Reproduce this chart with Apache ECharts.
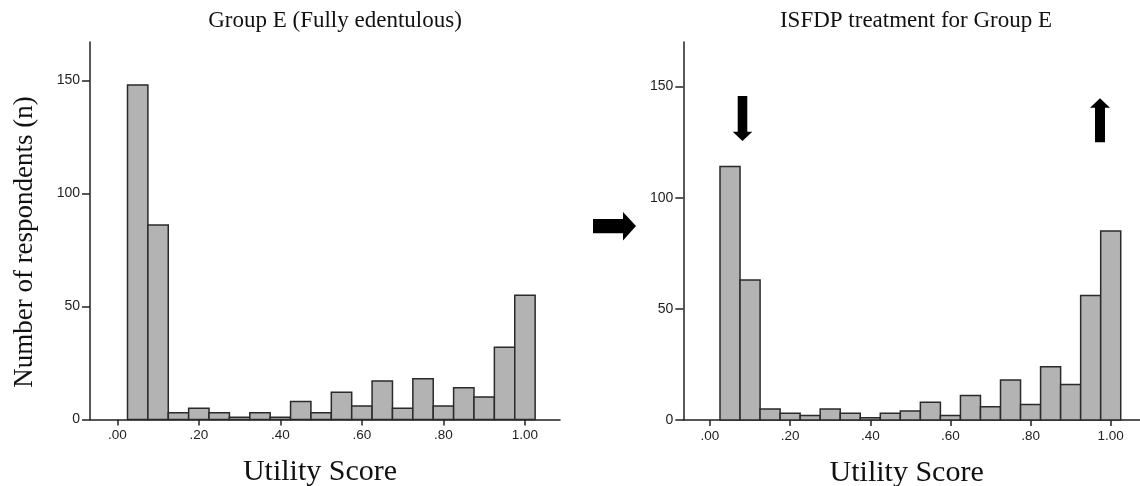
<!DOCTYPE html>
<html>
<head>
<meta charset="utf-8">
<script src="https://cdn.jsdelivr.net/npm/echarts@6/dist/echarts.min.js"></script>
<style>
  html, body { margin: 0; padding: 0; background: #fff; }
  #chart { width: 1140px; height: 486px; }
</style>
</head>
<body>
<div id="chart"></div>
<script>
// ---- data ----
const binCenters = [0.05, 0.10, 0.15, 0.20, 0.25, 0.30, 0.35, 0.40, 0.45, 0.50,
                    0.55, 0.60, 0.65, 0.70, 0.75, 0.80, 0.85, 0.90, 0.95, 1.00];
const groupECounts = [148, 86, 3, 5, 3, 1, 3, 1, 8, 3, 12, 6, 17, 5, 18, 6, 14, 10, 32, 55];
const isfdpCounts  = [114, 63, 5, 3, 2, 5, 3, 1, 3, 4, 8, 2, 11, 6, 18, 7, 24, 16, 56, 85];
const binWidth = 0.05;
const xTickValues = [0, 0.2, 0.4, 0.6, 0.8, 1.0];
const xTickLabels = ['.00', '.20', '.40', '.60', '.80', '1.00'];
const yTickValues = [0, 50, 100, 150];
const yTickLabels = ['0', '50', '100', '150'];
const titles = ['Group E (Fully edentulous)', 'ISFDP treatment for Group E'];
const xName = 'Utility Score';
const yName = 'Number of respondents (n)';

// ---- styles ----
const SERIF = '"Liberation Serif", "Times New Roman", serif';
const SANS = '"Liberation Sans", Arial, sans-serif';
const AX = '#222';

function toPairs(counts) { return binCenters.map((c, i) => [c, counts[i]]); }

function renderBar(params, api) {
  const c = api.value(0), v = api.value(1);
  const pTop = api.coord([c - binWidth / 2, v]);
  const pBot = api.coord([c + binWidth / 2, 0]);
  return {
    type: 'rect',
    shape: { x: pTop[0], y: pTop[1], width: pBot[0] - pTop[0], height: pBot[1] - pTop[1] },
    style: { fill: '#b3b3b3', stroke: '#2a2a2a', lineWidth: 1.5 }
  };
}

function xAxisCfg(idx, min, max) {
  return {
    type: 'value', gridIndex: idx, min: min, max: max,
    name: xName, nameLocation: 'middle', nameGap: 38,
    nameTextStyle: { fontFamily: SERIF, fontSize: 30, color: '#111', padding: [0, 10, 0, 0] },
    axisLine: { show: true, onZero: false, lineStyle: { color: AX, width: 1.5 } },
    axisTick: { show: true, length: 6, lineStyle: { color: AX, width: 1.5 }, customValues: xTickValues },
    axisLabel: {
      customValues: xTickValues, margin: 9,
      fontFamily: SANS, fontSize: 13.5, color: '#222',
      formatter: v => xTickLabels[Math.round(v * 5)]
    },
    splitLine: { show: false }
  };
}

function yAxisCfg(idx, max) {
  return {
    type: 'value', gridIndex: idx, min: 0, max: max,
    axisLine: { show: true, onZero: false, lineStyle: { color: AX, width: 1.5 } },
    axisTick: { show: true, length: 8, lineStyle: { color: AX, width: 1.5 }, customValues: yTickValues },
    axisLabel: {
      customValues: yTickValues, margin: 10,
      fontFamily: SANS, fontSize: 14, color: '#222',
      formatter: v => yTickLabels[yTickValues.indexOf(v)]
    },
    splitLine: { show: false }
  };
}

const chart = echarts.init(document.getElementById('chart'), null, { renderer: 'canvas' });
chart.setOption({
  backgroundColor: '#fff',
  animation: false,
  title: [
    { text: titles[0], left: 330, top: 4, textAlign: 'center',
      textStyle: { fontFamily: SERIF, fontSize: 23, fontWeight: 'normal', color: '#111' } },
    { text: titles[1], left: 911, top: 4, textAlign: 'center',
      textStyle: { fontFamily: SERIF, fontSize: 23, fontWeight: 'normal', color: '#111' } }
  ],
  grid: [
    { left: 90, top: 42, width: 470, height: 377.5, containLabel: false, outerBoundsMode: 'none' },
    { left: 683.3, top: 42, width: 456.7, height: 378, containLabel: false, outerBoundsMode: 'none' }
  ],
  xAxis: [xAxisCfg(0, -0.067, 1.086), xAxisCfg(1, -0.0666, 1.0731)],
  yAxis: [yAxisCfg(0, 167), yAxisCfg(1, 170)],
  series: [
    { type: 'custom', xAxisIndex: 0, yAxisIndex: 0, renderItem: renderBar,
      encode: { x: 0, y: 1 }, data: toPairs(groupECounts) },
    { type: 'custom', xAxisIndex: 1, yAxisIndex: 1, renderItem: renderBar,
      encode: { x: 0, y: 1 }, data: toPairs(isfdpCounts) }
  ],
  graphic: [
    { type: 'text', x: 25, y: 242, rotation: Math.PI / 2,
      style: { text: yName, font: '27px ' + SERIF, fill: '#111', textAlign: 'center', textVerticalAlign: 'middle' } },
    // transition arrow between panels
    { type: 'polygon', shape: { points: [[593, 219], [623, 219], [623, 212], [636, 226], [623, 240.5], [623, 233.3], [593, 233.3]] },
      style: { fill: '#000' } },
    // down arrow (right panel)
    { type: 'polygon', shape: { points: [[737.7, 96], [747.3, 96], [747.3, 131.7], [752.3, 131.7], [742.5, 141], [732.7, 131.7], [737.7, 131.7]] },
      style: { fill: '#000' } },
    // up arrow (right panel)
    { type: 'polygon', shape: { points: [[1100, 98.3], [1110, 107.7], [1105, 107.7], [1105, 142.3], [1095, 142.3], [1095, 107.7], [1090, 107.7]] },
      style: { fill: '#000' } }
  ]
});
</script>
</body>
</html>
